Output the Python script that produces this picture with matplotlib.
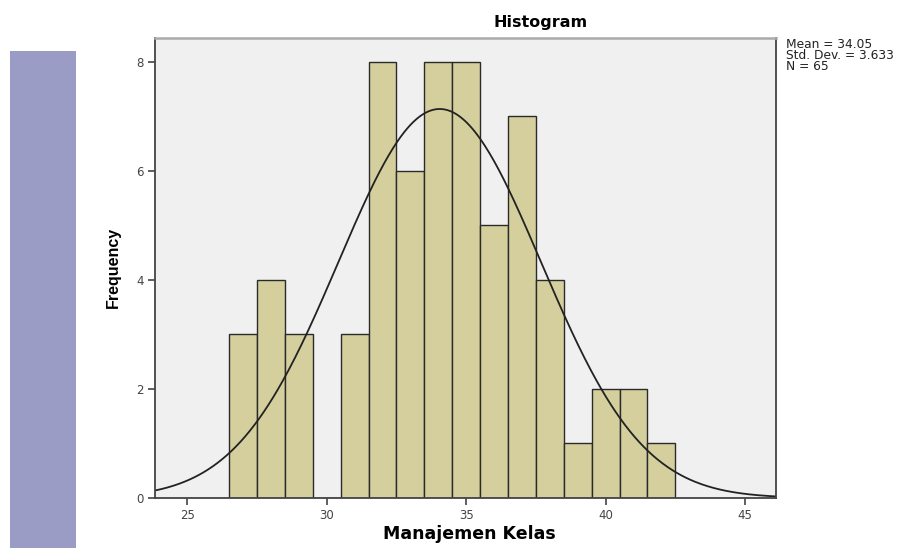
import numpy as np
import matplotlib.pyplot as plt
from matplotlib.patches import Rectangle

# histogram of Manajemen Kelas (bin width 1)
bin_centers = [27, 28, 29, 30, 31, 32, 33, 34, 35, 36, 37, 38, 39, 40, 41, 42]
counts = [3, 4, 3, 0, 3, 8, 6, 8, 8, 5, 7, 4, 1, 2, 2, 1]
mean = 34.05
std = 3.633
n_total = 65

W, H = 909, 548
fig = plt.figure(figsize=(W / 100, H / 100), dpi=100)

# purple side strip
fig.patches.append(Rectangle((10 / W, 0), 66 / W, 1 - 51 / H, transform=fig.transFigure,
                             facecolor='#9b9cc6', edgecolor='none'))

left, right, top, bottom = 155, 776, 38, 498
ax = fig.add_axes([left / W, 1 - bottom / H, (right - left) / W, (bottom - top) / H])
ax.set_facecolor('#f0f0f0')

ax.bar(bin_centers, counts, width=1.0, color='#d4cf9d', edgecolor='#2a2a2a', linewidth=1.0)

x = np.linspace(23.84, 46.11, 400)
pdf = n_total * 1.0 / (std * np.sqrt(2 * np.pi)) * np.exp(-0.5 * ((x - mean) / std) ** 2)
ax.plot(x, pdf, color='#222222', linewidth=1.3)

ax.set_xlim(23.84, 46.11)
ax.set_ylim(0, 8.44)
ax.set_xticks([25, 30, 35, 40, 45])
ax.set_yticks([0, 2, 4, 6, 8])
ax.tick_params(direction='out', length=5, width=1.2, labelsize=8.5, colors='#444444', pad=3)
for lab in ax.get_xticklabels() + ax.get_yticklabels():
    lab.set_family('DejaVu Sans')

for s in ['left', 'bottom', 'right']:
    ax.spines[s].set_color('#444444')
    ax.spines[s].set_linewidth(1.3)
ax.spines['top'].set_color('#aaaaaa')
ax.spines['top'].set_linewidth(1.8)

fig.text(541 / W, 1 - 22 / H, 'Histogram', ha='center', va='center',
         fontsize=11.5, fontweight='bold', family='DejaVu Sans')
fig.text(469 / W, 1 - 534 / H, 'Manajemen Kelas', ha='center', va='center',
         fontsize=12.5, fontweight='bold', family='DejaVu Sans')
fig.text(113 / W, 1 - 267 / H, 'Frequency', ha='center', va='center', rotation=90,
         fontsize=11.5, fontweight='bold', family='Liberation Sans')
fig.text(786 / W, 1 - 38 / H, 'Mean = 34.05\nStd. Dev. = 3.633\nN = 65', ha='left', va='top',
         fontsize=8.8, family='DejaVu Sans', linespacing=0.8, color='#222222')

fig.savefig('out.png', dpi=100)
